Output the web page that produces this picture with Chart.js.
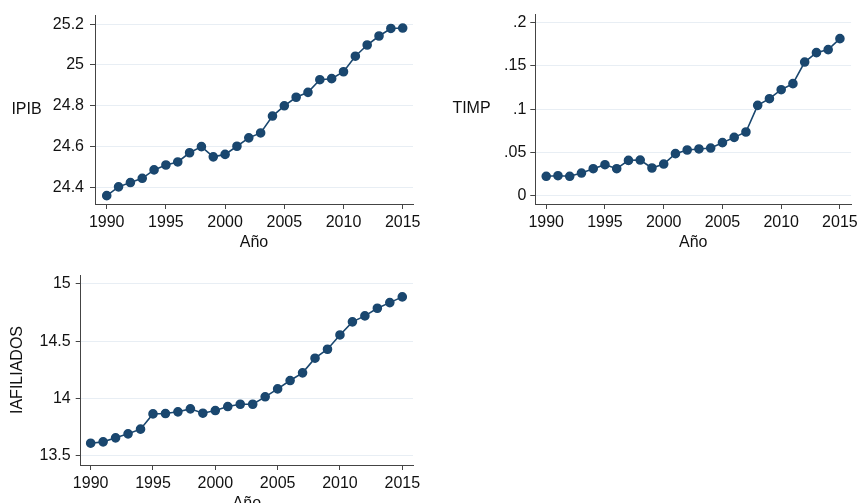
<!DOCTYPE html>
<html>
<head>
<meta charset="utf-8">
<script src="https://cdn.jsdelivr.net/npm/chart.js@4/dist/chart.umd.min.js"></script>
<style>
  html, body { margin: 0; padding: 0; background: #fff; overflow: hidden; }
  body { width: 862px; height: 503px; position: relative; }
  canvas { position: absolute; }
</style>
</head>
<body>
<canvas id="c1" width="430" height="260" style="left:0;top:0"></canvas>
<canvas id="c2" width="432" height="260" style="left:430px;top:0"></canvas>
<canvas id="c3" width="430" height="260" style="left:0;top:260px"></canvas>
<script>
// Años 1990-2015
const years = [1990,1991,1992,1993,1994,1995,1996,1997,1998,1999,2000,2001,2002,
               2003,2004,2005,2006,2007,2008,2009,2010,2011,2012,2013,2014,2015];

// Series
const ipib = [24.360,24.403,24.424,24.445,24.486,24.510,24.525,24.570,24.600,24.550,
              24.562,24.602,24.643,24.667,24.750,24.800,24.842,24.866,24.928,24.933,
              24.967,25.043,25.098,25.142,25.179,25.181];
const timp = [0.0224,0.0231,0.0224,0.0262,0.0312,0.0358,0.0312,0.0408,0.0412,0.0320,
              0.0366,0.0486,0.0528,0.0540,0.0551,0.0613,0.0674,0.0736,0.1044,0.1121,
              0.1225,0.1295,0.1545,0.1653,0.1688,0.1815];
const iafiliados = [13.610,13.622,13.657,13.692,13.733,13.866,13.869,13.884,13.910,13.872,
                    13.895,13.930,13.950,13.950,14.015,14.084,14.157,14.224,14.352,14.430,
                    14.555,14.669,14.721,14.788,14.837,14.887];

// Marcas de los ejes
const xTicks = [1990,1995,2000,2005,2010,2015];
const ipibTicks = [24.4,24.6,24.8,25,25.2];
const ipibTickLabels = ['24.4','24.6','24.8','25','25.2'];
const timpTicks = [0,0.05,0.1,0.15,0.2];
const timpTickLabels = ['0','.05','.1','.15','.2'];
const iafTicks = [13.5,14,14.5,15];
const iafTickLabels = ['13.5','14','14.5','15'];

const NAVY = '#1a476f';
const FONT = { family: '"Liberation Sans", Arial, sans-serif', size: 16 };
const TEXT = '#111';

// Títulos de los ejes dibujados respecto al área del gráfico
const axisTitles = {
  id: 'axisTitles',
  afterDraw(chart, args, o) {
    const { ctx, chartArea: a } = chart;
    ctx.save();
    ctx.font = `${FONT.size}px ${FONT.family}`;
    ctx.fillStyle = TEXT;
    ctx.textAlign = 'center';
    ctx.textBaseline = 'middle';
    ctx.fillText(o.x, (a.left + a.right) / 2, a.bottom + o.xGap);
    const cy = (a.top + a.bottom) / 2;
    if (o.rotate) {
      ctx.translate(o.yX, cy);
      ctx.rotate(-Math.PI / 2);
      ctx.fillText(o.y, 0, 0);
    } else {
      ctx.fillText(o.y, o.yX, cy);
    }
    ctx.restore();
  }
};

function panel(id, values, cfg) {
  const data = years.map((x, i) => ({ x, y: values[i] }));
  return new Chart(document.getElementById(id), {
    type: 'line',
    data: {
      datasets: [{
        data,
        borderColor: NAVY,
        backgroundColor: NAVY,
        pointBackgroundColor: NAVY,
        pointBorderColor: NAVY,
        pointRadius: 4,
        borderWidth: 1.6,
        tension: 0
      }]
    },
    plugins: [axisTitles],
    options: {
      responsive: false,
      animation: false,
      devicePixelRatio: 1,
      layout: { padding: cfg.padding },
      plugins: {
        legend: { display: false },
        tooltip: { enabled: false },
        axisTitles: { x: 'Año', y: cfg.title, yX: cfg.titleX, xGap: 39, rotate: cfg.rotate }
      },
      scales: {
        x: {
          type: 'linear',
          min: cfg.xMin, max: cfg.xMax,
          afterBuildTicks: s => { s.ticks = xTicks.map(v => ({ value: v })); },
          afterFit: s => { s.height = cfg.xHeight; },
          ticks: {
            autoSkip: false, maxRotation: 0, padding: 4,
            color: TEXT, font: FONT,
            callback: v => String(v)
          },
          grid: { drawOnChartArea: false, drawTicks: true, tickLength: 5, tickColor: '#444', tickWidth: 1 },
          border: { display: true, color: '#444', width: 1 }
        },
        y: {
          type: 'linear',
          min: cfg.yMin, max: cfg.yMax,
          afterBuildTicks: s => { s.ticks = cfg.yTicks.map(v => ({ value: v })); },
          afterFit: s => { s.width = cfg.yWidth; },
          ticks: {
            autoSkip: false, padding: cfg.tickPad,
            color: TEXT, font: FONT,
            callback: (v, i) => cfg.yLabels[i]
          },
          grid: { color: '#e8eef4', lineWidth: 1, drawTicks: true, tickLength: 5, tickColor: '#444', tickWidth: 1 },
          border: { display: true, color: '#444', width: 1 }
        }
      }
    }
  });
}

panel('c1', ipib, {
  title: 'IPIB', titleX: 26.5, rotate: false,
  padding: { left: 0, top: 14, right: 17, bottom: 0 },
  xMin: 1989.01, xMax: 2015.87, xHeight: 56,
  yMin: 24.319, yMax: 25.242, yWidth: 95, tickPad: 6,
  yTicks: ipibTicks, yLabels: ipibTickLabels
});

panel('c2', timp, {
  title: 'TIMP', titleX: 41.5, rotate: false,
  padding: { left: 0, top: 14, right: 8, bottom: 0 },
  xMin: 1989.07, xMax: 2015.95, xHeight: 56,
  yMin: -0.0096, yMax: 0.21, yWidth: 105.3, tickPad: 4,
  yTicks: timpTicks, yLabels: timpTickLabels
});

panel('c3', iafiliados, {
  title: 'IAFILIADOS', titleX: 18, rotate: true,
  padding: { left: 0, top: 15, right: 17, bottom: 0 },
  xMin: 1989.2, xMax: 2015.86, xHeight: 55,
  yMin: 13.42, yMax: 15.078, yWidth: 80.7, tickPad: 5,
  yTicks: iafTicks, yLabels: iafTickLabels
});
</script>
</body>
</html>
